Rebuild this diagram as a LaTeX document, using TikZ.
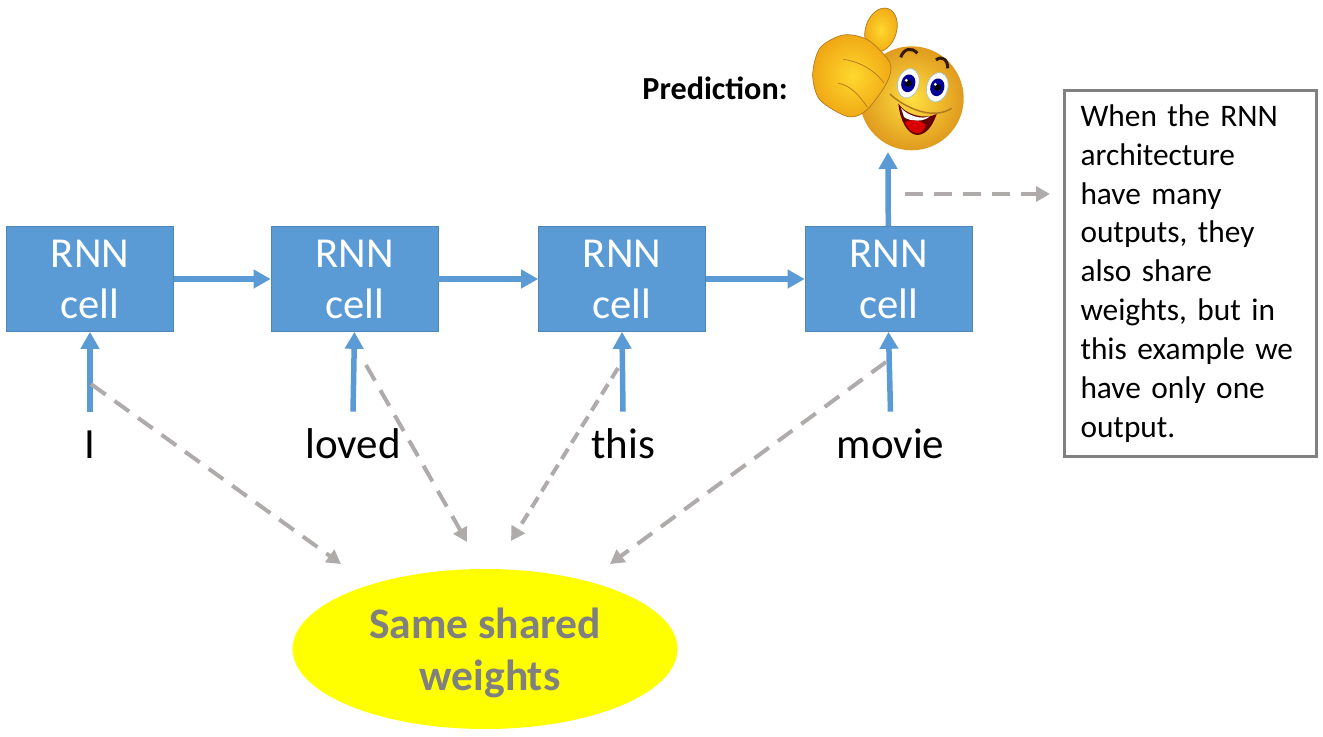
\documentclass[tikz,border=0pt]{standalone}
\usepackage{fontspec}
\setmainfont{Carlito}
\usetikzlibrary{arrows.meta,shapes.geometric}
\definecolor{cellblue}{HTML}{5B9BD5}
\definecolor{cellline}{HTML}{4F86B8}
\definecolor{dashgray}{HTML}{AFABAB}
\definecolor{weightyellow}{HTML}{FFFF00}
\definecolor{faceinner}{HTML}{FFE040}
\definecolor{faceouter}{HTML}{E09A1E}
\definecolor{handinner}{HTML}{FFD82E}
\definecolor{handouter}{HTML}{F0A814}
\definecolor{handline}{HTML}{B07A20}
\tikzset{
  cellbox/.style={draw=cellline, fill=cellblue, text=white, minimum width=3.34cm, minimum height=2.1cm, inner sep=0, align=center, font=\fontsize{24.3}{29}\selectfont},
  wordbox/.style={anchor=base, inner ysep=0, text height=.92cm, text depth=0, font=\fontsize{24.5}{28}\selectfont},
  bluearrow/.style={cellblue, line width=.11cm, -{Triangle[length=.34cm, width=.36cm]}},
  grayarrow/.style={dashgray, line width=.08cm, dash pattern=on .36cm off .22cm, -{Triangle[length=.28cm, width=.3cm]}},
  shortgray/.style={grayarrow, dash pattern=on .24cm off .14cm}
}
\begin{document}
\begin{tikzpicture}[x=.02cm, y=-.02cm]
\useasboundingbox (0, 0) rectangle (1323, 737);
% cells
\node [cellbox] (cell1) at (90, 279) {RNN\\cell};
\node [cellbox] (cell2) at (354.5, 279) {RNN\\cell};
\node [cellbox] (cell3) at (622, 279) {RNN\\cell};
\node [cellbox] (cell4) at (888.5, 279) {RNN\\cell};
\draw [bluearrow] (cell1) -- (cell2);
\draw [bluearrow] (cell2) -- (cell3);
\draw [bluearrow] (cell3) -- (cell4);
% words
\node [wordbox] (word1) at (90, 458) {I};
\node [wordbox] (word2) at (353, 458) {loved};
\node [wordbox] (word3) at (623, 458) {this};
\node [wordbox] (word4) at (890.5, 458) {movie};
\foreach \i in {1, 2, 3, 4} {
  \draw [bluearrow] (word\i.north) -- (cell\i.south);
}
% weights
\node [ellipse, fill=weightyellow, minimum width=7.7cm, minimum height=3.2cm, inner sep=0] (weights) at (485, 649) {};
\node [text=black!50, align=center, font=\fontsize{24.8}{29.3}\selectfont\bfseries] (weightstext) at (485, 653) {Same shared\\\hspace*{.2cm}weights};
\coordinate (from1) at (91, 384);
\coordinate (to1) at (341, 564);
\coordinate (from2) at (366, 365);
\coordinate (to2) at (467, 542);
\coordinate (from3) at (618, 368);
\coordinate (to3) at (511, 541);
\coordinate (from4) at (886, 362);
\coordinate (to4) at (610, 564);
\draw [grayarrow] (from1) -- (to1);
\draw [grayarrow] (from2) -- (to2);
\draw [shortgray] (from3) -- (to3);
\draw [grayarrow] (from4) -- (to4);
% output
\node [anchor=east, inner xsep=0, font=\fontsize{18.3}{22}\selectfont\bfseries] (pred) at (788, 88) {Prediction:};
\coordinate (thumb) at (888, 152);
\draw [bluearrow] (cell4) -- (thumb);
\node [draw=black!50, line width=.06cm, minimum width=5.04cm, minimum height=7.32cm, inner xsep=.32cm, inner ysep=0, align=left, anchor=north west, text width=4.4cm, font=\fontsize{17.85}{22.1}\selectfont] (note) at (1063, 89) {When the RNN\\architecture\\have many\\outputs, they\\also share\\weights, but in\\this example we\\have only one\\output.};
\coordinate (notefrom) at (905, 194);
\coordinate (noteto) at (1050, 194);
\draw [grayarrow] (notefrom) -- (noteto);
% smiley
\shade [inner color=faceinner, outer color=faceouter] (911.7, 98.3) circle (52);
\shade [inner color=handinner, outer color=handouter, draw=handline, rotate around={-18:(881, 30)}] (881, 30) ellipse (15.5 and 22.5);
\shade [inner color=handinner, outer color=handouter, draw=handline] plot [smooth cycle] coordinates {(812.7, 75) (820, 48) (843.3, 35) (868, 40) (890, 63) (886.7, 83) (866.7, 110) (848.3, 116.7) (820, 100)};
\draw [handline] (843.3, 59.3) .. controls (862, 62) and (876, 72) .. (884, 83);
\draw [handline] (838.3, 83.3) .. controls (850, 85) and (860, 96) .. (867.3, 107.3);
\draw [handline, line width=.03cm] (890, 94) .. controls (900, 104) and (930, 122) .. (951.7, 108.3);
\draw [black!80!orange, line width=.06cm] (900.7, 57.3) .. controls (904, 48) and (912, 47) .. (917.3, 53.3);
\draw [black!80!orange, line width=.06cm] (936, 60) .. controls (942, 55) and (948, 60) .. (947.7, 68.3);
% eyes
\foreach \ex/\ey in {908.3/83.3, 937.3/87.3} {
  \fill [white, draw=cyan!40!gray!60, rotate around={-15:(\ex, \ey)}] (\ex, \ey) ellipse (10.5 and 15);
  \fill [blue!60!black, rotate around={-15:(\ex, \ey)}] (\ex, \ey) ellipse (7 and 9);
  \fill [black] (\ex, \ey) circle (3.6);
  \fill [white] (\ex - 2, \ey - 3) circle (1.6);
}
% mouth
\fill [black!60!red] (898.3, 103.3) .. controls (905, 115) and (925, 120) .. (936.7, 114) .. controls (932, 128) and (925, 135) .. (916.7, 135) .. controls (907, 134) and (900, 120) .. (898.3, 103.3);
\fill [white] (901, 108) .. controls (908, 116) and (922, 120) .. (930, 116) .. controls (925, 122) and (910, 122) .. (904, 117) -- cycle;
\fill [red!85!black] (905, 122) .. controls (912, 118) and (924, 122) .. (926, 125) .. controls (924, 131) and (920, 134) .. (916, 133) .. controls (911, 132) and (907, 128) .. (905, 122);
\end{tikzpicture}
\end{document}
